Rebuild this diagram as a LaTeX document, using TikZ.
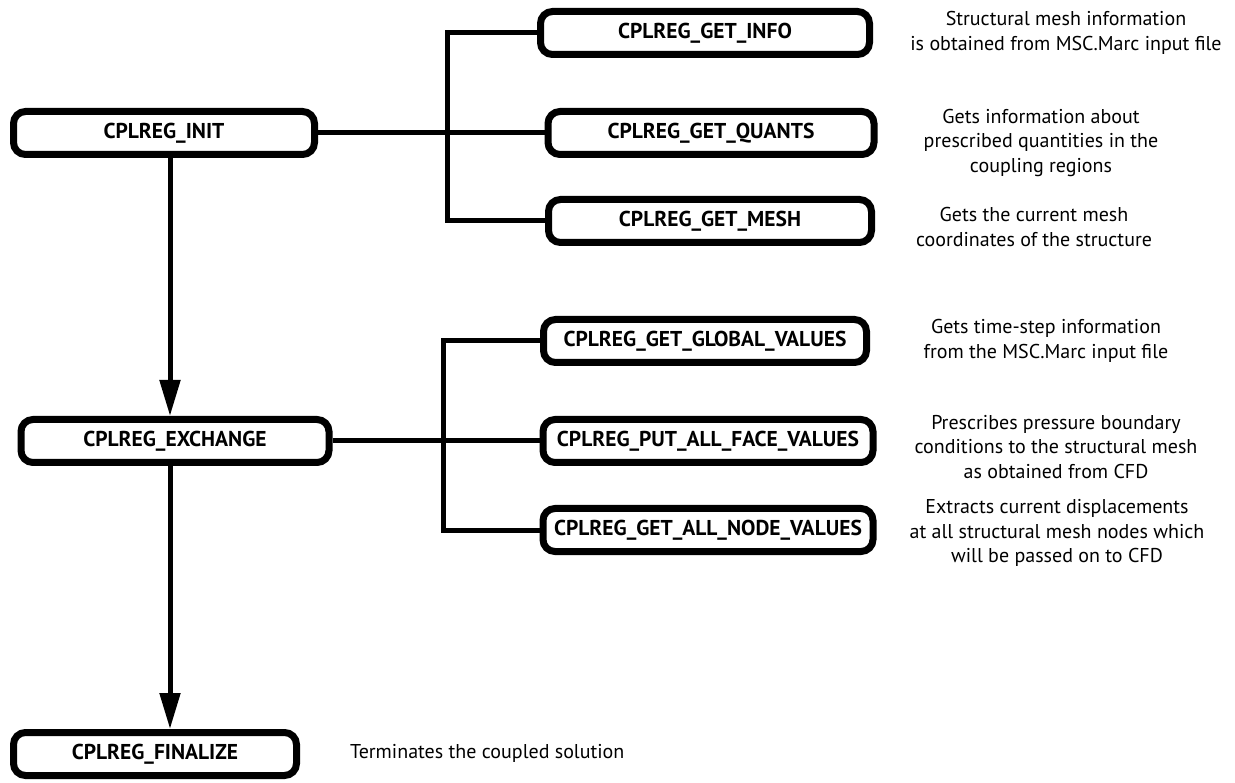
\documentclass[tikz,border=0pt]{standalone}
\usepackage{fontspec}
\setmainfont{PT Sans}
\usepackage{tikz}
\usetikzlibrary{arrows.meta,positioning,calc}
\tikzset{
  box/.style={draw, rectangle, rounded corners=12pt, line width=7pt, align=center, font=\bfseries\fontsize{21.5}{24}\selectfont, minimum height=43pt, inner sep=2pt, fill=white},
  arr/.style={-{Triangle[length=36pt,width=20pt]}, line width=5pt},
  link/.style={line width=5pt},
  note/.style={font=\fontsize{20}{24.5}\selectfont, align=center, inner sep=0pt},
}

\begin{document}
\begin{tikzpicture}[x=1pt,y=-1pt]
\useasboundingbox (0,0) rectangle (1235,783);
\coordinate (spine) at (170,0);
\node[box, minimum width=301pt] (init) at (164,133) {CPLREG\_INIT};
\node[box, minimum width=308pt] (exch) at (175,441) {CPLREG\_EXCHANGE};
\node[box, minimum width=283pt] (fin) at (155,754) {CPLREG\_FINALIZE};
\node[box, minimum width=329pt] (info) at (705,33) {CPLREG\_GET\_INFO};
\node[box, minimum width=326pt] (quants) at (711,133) {CPLREG\_GET\_QUANTS};
\node[box, minimum width=323pt] (mesh) at (710,221) {CPLREG\_GET\_MESH};
\node[box, minimum width=323pt] (glob) at (705,341) {CPLREG\_GET\_GLOBAL\_VALUES};
\node[box, minimum width=330pt] (face) at (708,441) {CPLREG\_PUT\_ALL\_FACE\_VALUES};
\node[box, minimum width=330pt] (nodev) at (708,530) {CPLREG\_GET\_ALL\_NODE\_VALUES};
% notes
\node[note] (n1) at (1066,33) {Structural mesh information\\is obtained from MSC.Marc input file};
\node[note] (n2) at (1041,143) {Gets information about\\prescribed quantities in the\\coupling regions};
\node[note] (n3) at (1034,227) {Gets the current mesh\\coordinates of the structure};
\node[note] (n4) at (1046,341) {Gets time-step information\\from the MSC.Marc input file};
\node[note] (n5) at (1056,447) {Prescribes pressure boundary\\conditions to the structural mesh\\as obtained from CFD};
\node[note] (n6) at (1057,533) {Extracts current displacements\\at all structural mesh nodes which\\will be passed on to CFD};
\node[note, anchor=west] (n7) at (350,753) {Terminates the coupled solution};
% connectors
\draw[link] (init) -- (quants);
\draw[link] (info.west) -- ++(-90,0) |- (mesh.west);
\draw[link] (exch) -- (face);
\draw[link] (glob.west) -- ++(-97,0) |- (nodev.west);
\draw[arr] (init.south -| spine) -- (exch.north -| spine);
\draw[arr] (exch.south -| spine) -- (fin.north -| spine);
\end{tikzpicture}
\end{document}
